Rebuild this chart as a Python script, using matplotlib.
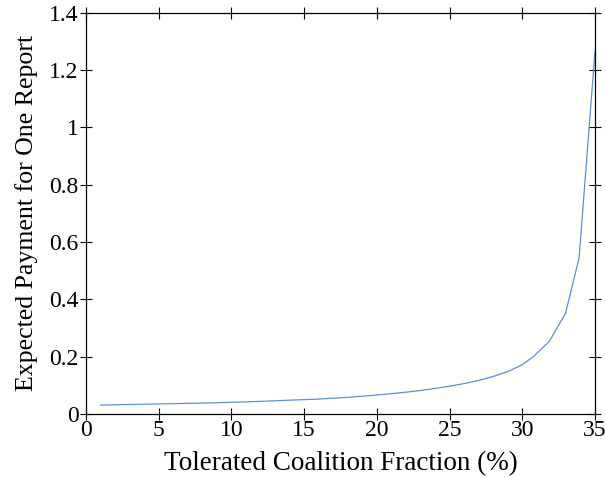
"""Expected payment per report against tolerated coalition fraction."""

from matplotlib import pyplot as plt

# coalition fraction (%) and expected payment
fraction = [1, 2, 3, 4, 5, 6, 7, 8, 9, 10, 11, 12, 13, 14, 15, 16, 17, 18,
            19, 20, 21, 22, 23, 24, 25, 26, 27, 28, 29, 30, 30.75, 31.85,
            32.97, 33.3, 33.9, 35]
payment = [0.031, 0.032, 0.033, 0.034, 0.035, 0.036, 0.037, 0.038, 0.039,
           0.041, 0.042, 0.044, 0.046, 0.048, 0.050, 0.052, 0.055, 0.058,
           0.062, 0.066, 0.071, 0.076, 0.082, 0.089, 0.097, 0.106, 0.117,
           0.131, 0.148, 0.172, 0.200, 0.253, 0.352, 0.42, 0.545, 1.27]

xticks = [0, 5, 10, 15, 20, 25, 30, 35]
yticks = [0, 0.2, 0.4, 0.6, 0.8, 1.0, 1.2, 1.4]
ytick_labels = ["0", "0.2", "0.4", "0.6", "0.8", "1", "1.2", "1.4"]

plt.rcParams["font.family"] = ["Liberation Serif", "DejaVu Serif"]

fig = plt.figure(figsize=(6.06, 4.78), dpi=100)
ax = fig.add_axes([0.142, 0.134, 0.840, 0.839])

ax.plot(fraction, payment, color="#5b8fd4", linewidth=0.9)

ax.set_xlim(0, 35)
ax.set_ylim(0, 1.4)
ax.set_xticks(xticks)
ax.set_yticks(yticks)
ax.set_yticklabels(ytick_labels)

ax.tick_params(direction="inout", length=9, width=0.8, labelsize=17,
               top=True, right=True, colors="black")
ax.tick_params(axis="x", pad=0)
ax.tick_params(axis="y", pad=1)
for side in ax.spines.values():
    side.set_linewidth(0.9)

ax.set_xlabel("Tolerated Coalition Fraction (%)", fontsize=19.5, labelpad=7)
ax.set_ylabel("Expected Payment for One Report", fontsize=18.6, labelpad=8)

fig.savefig("out.png", dpi=100)
